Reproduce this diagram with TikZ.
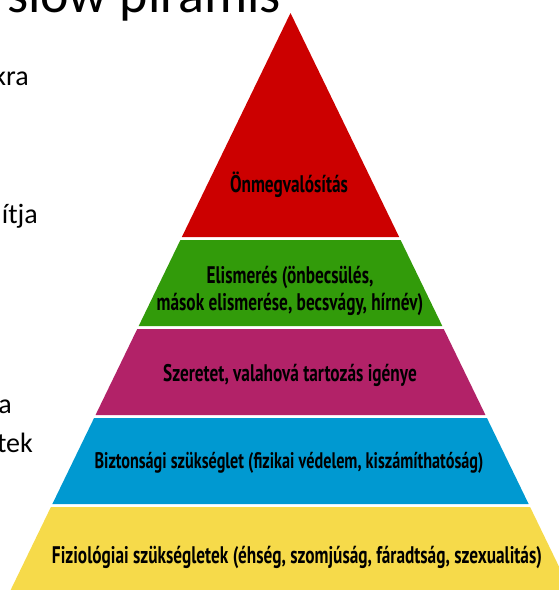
\documentclass[tikz,border=0pt]{standalone}
\usepackage{fontspec}
\setmainfont{Carlito}
\newfontfamily\pyrfont[FakeStretch=0.72]{PT Sans}

\definecolor{pyrred}{RGB}{204,0,0}
\definecolor{pyrgreen}{RGB}{50,155,10}
\definecolor{pyrpink}{RGB}{178,34,104}
\definecolor{pyrblue}{RGB}{0,153,209}
\definecolor{pyryellow}{RGB}{246,218,74}

\tikzset{
  level/.style={font=\pyrfont\bfseries\fontsize{24}{27}\selectfont, text=black, align=center, inner sep=0pt},
  side/.style={font=\fontsize{28}{34}\selectfont, anchor=base east, inner sep=0pt}
}

\begin{document}
\begin{tikzpicture}[x=1pt,y=-1pt]
    % Frame
    \useasboundingbox (0,0) rectangle (559,590);
    \clip (0,0) rectangle (559,590);

    % Pyramid bands (top, bottom, colour)
    \foreach \t/\b/\c in {13/237/pyrred, 240/326/pyrgreen, 329/415/pyrpink, 418/504/pyrblue, 507/600/pyryellow}
      \fill[\c] ({290.5-0.485*(\t-13)},\t) -- ({290.5+0.485*(\t-13)},\t)
        -- ({290.5+0.485*(\b-13)},\b) -- ({290.5-0.485*(\b-13)},\b) -- cycle;

    % Labels of the levels
    \node[level] (self) at (289,185) {Önmegvalósítás};
    \node[level] (esteem) at (290,291) {Elismerés (önbecsülés,\\ mások elismerése, becsvágy, hírnév)};
    \node[level] (love) at (290,375) {Szeretet, valahová tartozás igénye};
    \node[level, font=\pyrfont\bfseries\fontsize{22.5}{27}\selectfont] (safety) at (289,463) {Biztonsági szükséglet (fizikai védelem, kiszámíthatóság)};
    \node[level] (body) at (297,557) {Fiziológiai szükségletek (éhség, szomjúság, fáradtság, szexualitás)};

    % Slide text cut off by the frame
    \node[side, font=\fontsize{54}{60}\selectfont] (title) at (281,12) {slow piramis};
    \node[side] (line1) at (29,85) {kra};
    \node[side] (line2) at (38,223) {ítja};
    \node[side] (line3) at (12,413) {a};
    \node[side] (line4) at (33,452) {tek};
\end{tikzpicture}
\end{document}
